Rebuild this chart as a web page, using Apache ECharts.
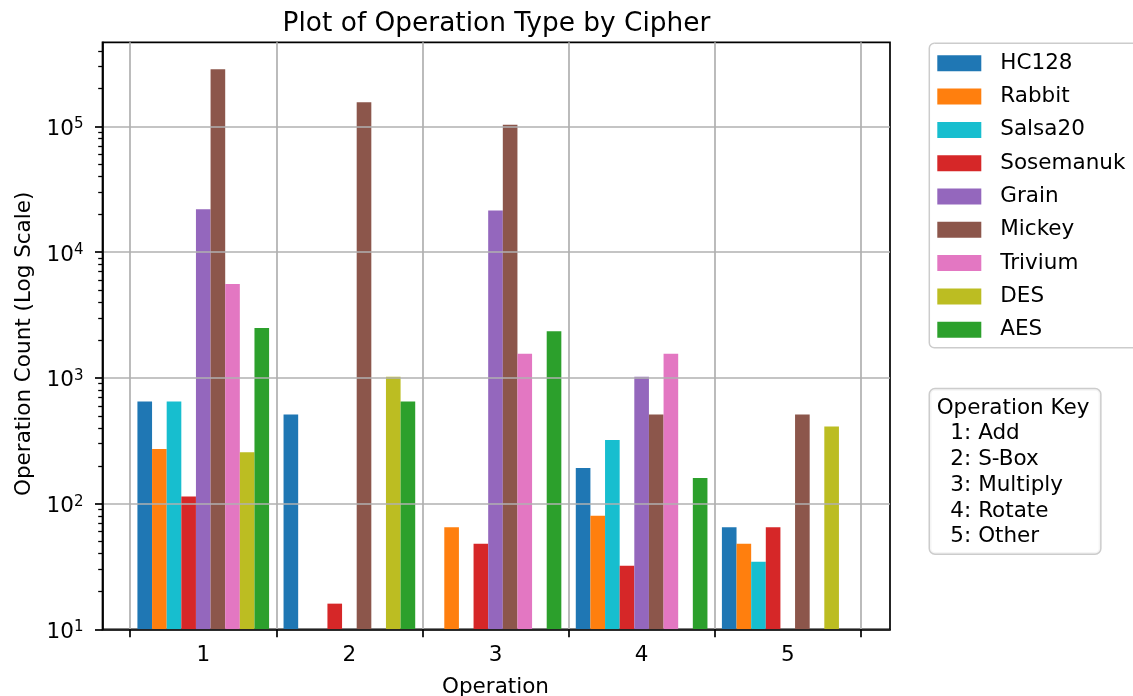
<!DOCTYPE html>
<html>
<head>
<meta charset="utf-8">
<title>Plot of Operation Type by Cipher</title>
<script src="https://cdn.jsdelivr.net/npm/echarts@6/dist/echarts.min.js"></script>
<style>
  html, body { margin: 0; padding: 0; background: #fff; }
  #chart { width: 1133px; height: 696px; }
</style>
</head>
<body>
<div id="chart"></div>
<script>
// Operation groups on the x axis
const categories = ['1', '2', '3', '4', '5'];

// Operation counts per cipher (null = no operations of that type)
const hc128     = [650, 512, null, 192, 65];
const rabbit    = [272, null, 65, 80, 48];
const salsa20   = [650, null, null, 320, 34.5];
const sosemanuk = [114, 16, 48, 32, 65];
const grain     = [22000, null, 21500, 1024, null];
const mickey    = [286000, 156000, 103500, 512, 512];
const trivium   = [5600, null, 1560, 1560, null];
const des       = [256, 1024, null, null, 410];
const aes       = [2490, 650, 2350, 160, null];

const cipherNames = ['HC128', 'Rabbit', 'Salsa20', 'Sosemanuk', 'Grain', 'Mickey', 'Trivium', 'DES', 'AES'];
const cipherColors = ['#1f77b4', '#ff7f0e', '#17becf', '#d62728', '#9467bd', '#8c564b', '#e377c2', '#bcbd22', '#2ca02c'];
const cipherValues = [hc128, rabbit, salsa20, sosemanuk, grain, mickey, trivium, des, aes];

// Log axis range and tick values
const yMin = 10;
const yMax = 468000;
const yMajorTicks = [10, 100, 1000, 10000, 100000];
const yMinorTicks = [
  20, 30, 40, 50, 60, 70, 80, 90,
  200, 300, 400, 500, 600, 700, 800, 900,
  2000, 3000, 4000, 5000, 6000, 7000, 8000, 9000,
  20000, 30000, 40000, 50000, 60000, 70000, 80000, 90000,
  200000, 300000, 400000
];

// Text for the operation key box
const keyLines = ['Operation Key', '  1: Add', '  2: S-Box', '  3: Multiply', '  4: Rotate', '  5: Other'];

const FONT = 'DejaVu Sans';
const FS = 21.5;

const chart = echarts.init(document.getElementById('chart'), null, { renderer: 'canvas' });

const series = cipherNames.map((name, i) => ({
  name: name,
  type: 'bar',
  xAxisIndex: 1,
  yAxisIndex: 2,
  data: cipherValues[i],
  barWidth: 14.63,
  barGap: '0%',
  itemStyle: { color: cipherColors[i] },
  clip: true,
  z: 2
}));

const option = {
  animation: false,
  backgroundColor: '#ffffff',
  textStyle: { fontFamily: FONT },
  title: {
    text: 'Plot of Operation Type by Cipher',
    left: 496.5,
    top: 9.5,
    textAlign: 'center',
    padding: 0,
    textStyle: { fontFamily: FONT, fontSize: 26.4, fontWeight: 'normal', color: '#000', lineHeight: 30 }
  },
  legend: {
    orient: 'vertical',
    left: 929.3,
    top: 43.3,
    data: cipherNames,
    icon: 'rect',
    itemWidth: 44,
    itemHeight: 16,
    itemGap: 11.3,
    padding: [9, 14, 7, 8],
    borderColor: '#cccccc',
    borderWidth: 1.5,
    borderRadius: 5,
    backgroundColor: 'rgba(255,255,255,0.8)',
    selectedMode: false,
    textStyle: { fontFamily: FONT, fontSize: FS, color: '#000', lineHeight: 22, padding: [0, 0, 0, 14] }
  },
  grid: [
    { left: 102.5, right: 243, top: 42.3, bottom: 66.7, show: true, borderColor: '#000', borderWidth: 1.7, backgroundColor: 'transparent', containLabel: false, outerBoundsMode: 'none' },
    { left: 130.2, right: 272.2, top: 42.3, bottom: 66.7, containLabel: false, outerBoundsMode: 'none' }
  ],
  xAxis: [
    {
      gridIndex: 0, type: 'value', min: 0, max: 1,
      axisLine: { show: true, lineStyle: { color: '#000', width: 1.7 } },
      axisTick: { show: false }, axisLabel: { show: false }, splitLine: { show: false },
      z: 4
    },
    {
      gridIndex: 1, type: 'category', data: categories,
      axisLine: { show: false },
      axisTick: { show: true, length: 8, lineStyle: { color: '#000', width: 1.7 } },
      axisLabel: { fontFamily: FONT, fontSize: FS, color: '#000', margin: 15 },
      splitLine: { show: true, lineStyle: { color: '#b0b0b0', width: 1.7 } },
      name: 'Operation', nameLocation: 'middle', nameGap: 47,
      nameTextStyle: { fontFamily: FONT, fontSize: FS, color: '#000' },
      z: 3
    }
  ],
  yAxis: [
    {
      gridIndex: 0, type: 'log', logBase: 10, min: yMin, max: yMax, position: 'left',
      axisLine: { show: true, lineStyle: { color: '#000', width: 1.7 } },
      axisTick: { show: true, length: 7.5, lineStyle: { color: '#000', width: 1.7 }, customValues: yMajorTicks },
      axisLabel: {
        customValues: yMajorTicks,
        margin: 19,
        formatter: function (v) {
          const e = Math.round(Math.log10(v));
          return '{b|10}{s|' + e + '}';
        },
        rich: {
          b: { fontFamily: FONT, fontSize: FS, color: '#000', padding: [6, 0, 0, 0] },
          s: { fontFamily: FONT, fontSize: 15, color: '#000', padding: [0, 0, 4, 0] }
        }
      },
      splitLine: { show: true, lineStyle: { color: '#b0b0b0', width: 1.7 } },
      name: 'Operation Count (Log Scale)', nameLocation: 'middle', nameGap: 67,
      nameTextStyle: { fontFamily: FONT, fontSize: FS, color: '#000', padding: [0, 16, 0, 0] },
      z: 3
    },
    {
      gridIndex: 0, type: 'log', logBase: 10, min: yMin, max: yMax, position: 'left', offset: 0,
      axisLine: { show: false },
      axisTick: { show: true, length: 4.3, lineStyle: { color: '#000', width: 1.3 }, customValues: yMinorTicks },
      axisLabel: { show: false },
      splitLine: { show: false },
      z: 3
    },
    {
      gridIndex: 1, type: 'log', logBase: 10, min: yMin, max: yMax, show: false
    }
  ],
  graphic: [
    {
      type: 'text',
      x: 930,
      y: 389.3,
      z: 10,
      style: {
        text: keyLines.join('\n'),
        font: FS + 'px "' + FONT + '"',
        fill: '#000',
        lineHeight: 25.7,
        align: 'left',
        verticalAlign: 'top',
        backgroundColor: 'rgba(255,255,255,0.8)',
        borderColor: '#cccccc',
        borderWidth: 1.5,
        borderRadius: 5,
        padding: [6, 10.6, 4, 6.7]
      }
    }
  ],
  series: series
};

chart.setOption(option);
</script>
</body>
</html>
